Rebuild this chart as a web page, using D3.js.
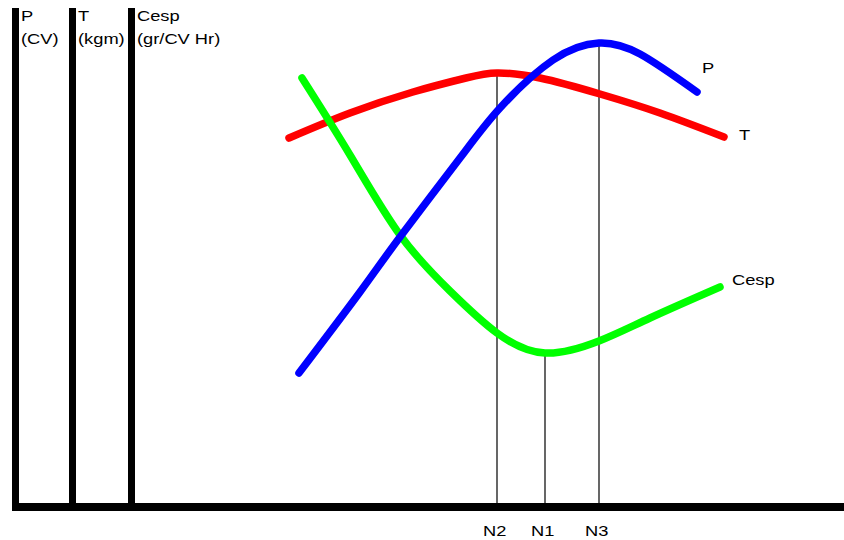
<!DOCTYPE html>
<html>
<head>
<meta charset="utf-8">
<script src="https://cdn.jsdelivr.net/npm/d3@7"></script>
<style>
  html, body { margin: 0; padding: 0; background: #fff; }
  svg { display: block; }
  text { font-family: "Liberation Sans", Arial, sans-serif; font-size: 15.5px; fill: #000; }
</style>
</head>
<body>
<script>
// Engine curves vs. speed (arbitrary units on both axes)
const powerCurve = [ // P (CV)
  [283,134],[344,215],[384,270],[444,349],[484,399],[537,447],[583,464],[624,453],[681,415]
];
const torqueCurve = [ // T (kgm)
  [273,369],[334,394],[397,415],[450,429],[481,434],[524,429],[584,413],[644,394],[708,370]
];
const consumptionCurve = [ // Cesp (gr/CV Hr)
  [286,429],[334,352],[384,272],[434,216],[481,174],[529,154],[583,166],[634,189],[704,220]
];
const curveNames = ["P", "T", "Cesp"];
const axisTitles = [["P", "(CV)"], ["T", "(kgm)"], ["Cesp", "(gr/CV Hr)"]];
const speedLabels = ["N2", "N1", "N3"];
const speedValues = [481, 529, 583];      // max torque, min consumption, max power
const speedLevels = [434, 154, 464];      // curve value reached at each speed

const W = 844, H = 540;
const svg = d3.select("body").append("svg").attr("width", W).attr("height", H);

const x = d3.scaleLinear().domain([0, 820]).range([16, 836]);
const y = d3.scaleLinear().domain([0, 500]).range([507, 7]);

// reference lines at the characteristic speeds
svg.append("g").selectAll("line").data(speedValues).join("line")
  .attr("x1", d => x(d)).attr("x2", d => x(d))
  .attr("y1", y(0)).attr("y2", (d, i) => y(speedLevels[i]))
  .attr("stroke", "#000").attr("stroke-width", 1.2);

// curves
const line = d3.line().x(d => x(d[0])).y(d => y(d[1])).curve(d3.curveNatural);
const series = [
  { data: torqueCurve, color: "#ff0000" },
  { data: consumptionCurve, color: "#00ff00" },
  { data: powerCurve, color: "#0000ff" }
];
svg.append("g").selectAll("path").data(series).join("path")
  .attr("d", d => line(d.data))
  .attr("fill", "none")
  .attr("stroke", d => d.color)
  .attr("stroke-width", 7.5)
  .attr("stroke-linecap", "round")
  .attr("stroke-linejoin", "round");

// curve name labels
const sx = 1.18;
const nameLabels = [
  { text: curveNames[0], px: 702, py: 73 },
  { text: curveNames[1], px: 739, py: 140 },
  { text: curveNames[2], px: 732, py: 285 }
];
svg.append("g").selectAll("text").data(nameLabels).join("text")
  .attr("transform", d => `translate(${d.px},${d.py}) scale(${sx},1)`)
  .text(d => d.text);

// vertical value axes
const axisX = [15.5, 72.5, 131.5];
svg.append("g").selectAll("line").data(axisX).join("line")
  .attr("x1", d => d).attr("x2", d => d)
  .attr("y1", 8).attr("y2", 511)
  .attr("stroke", "#000").attr("stroke-width", 7);

const titles = svg.append("g").selectAll("g").data(axisTitles).join("g");
titles.selectAll("text").data((d, i) => d.map((t, j) => ({ t, i, j }))).join("text")
  .attr("transform", d => `translate(${axisX[d.i] + 5.5},${21 + d.j * 23}) scale(${sx},1)`)
  .text(d => d.t);

// horizontal speed axis
svg.append("line")
  .attr("x1", 12).attr("x2", W)
  .attr("y1", y(0)).attr("y2", y(0))
  .attr("stroke", "#000").attr("stroke-width", 8);

svg.append("g").selectAll("text").data(speedLabels).join("text")
  .attr("transform", (d, i) => `translate(${x(speedValues[i]) - 14},536) scale(${sx},1)`)
  .text(d => d);
</script>
</body>
</html>
